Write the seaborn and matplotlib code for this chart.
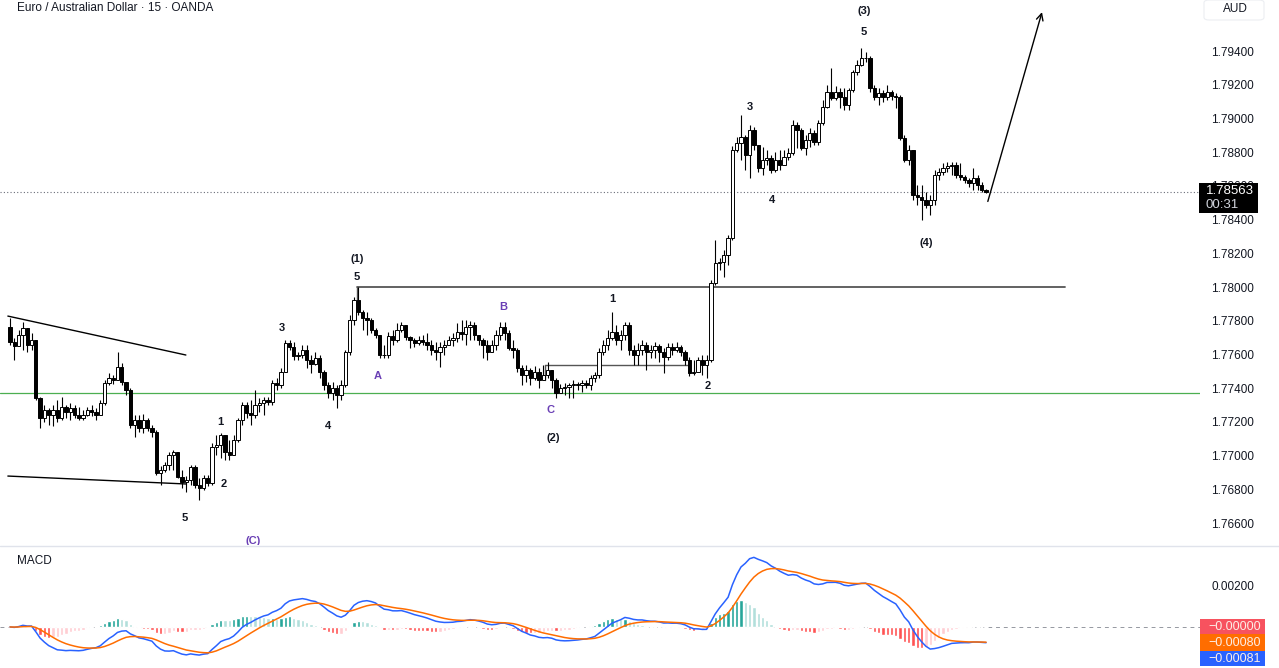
import numpy as np
import pandas as pd
import matplotlib
matplotlib.use("Agg")
import matplotlib.pyplot as plt
from matplotlib.patches import Rectangle, FancyBboxPatch
import seaborn as sns

# EUR/AUD 15m candles, open of candle n = close of candle n-1
first_open = 1.77763
closes = [
    1.77674, 1.77650, 1.77715, 1.77757, 1.77656, 1.77686, 1.77342, 1.77223, 1.77270, 1.77241,
    1.77270, 1.77223, 1.77288, 1.77259, 1.77282, 1.77241, 1.77223, 1.77241, 1.77270, 1.77259,
    1.77241, 1.77312, 1.77431, 1.77460, 1.77448, 1.77525, 1.77436, 1.77389, 1.77181, 1.77211,
    1.77164, 1.77211, 1.77164, 1.77139, 1.76897, 1.76914, 1.76944, 1.77003, 1.77021, 1.76873,
    1.76843, 1.76855, 1.76932, 1.76825, 1.76808, 1.76867, 1.76837, 1.77051, 1.77063, 1.77121,
    1.77021, 1.77003, 1.77092, 1.77211, 1.77300, 1.77253, 1.77241, 1.77300, 1.77312, 1.77330,
    1.77318, 1.77431, 1.77419, 1.77496, 1.77668, 1.77644, 1.77591, 1.77597, 1.77626, 1.77567,
    1.77543, 1.77579, 1.77496, 1.77419, 1.77371, 1.77401, 1.77359, 1.77419, 1.77614, 1.77804,
    1.77923, 1.77852, 1.77816, 1.77804, 1.77745, 1.77715, 1.77597, 1.77597, 1.77709, 1.77686,
    1.77745, 1.77775, 1.77703, 1.77686, 1.77668, 1.77686, 1.77674, 1.77656, 1.77626, 1.77614,
    1.77644, 1.77656, 1.77686, 1.77697, 1.77733, 1.77721, 1.77763, 1.77775, 1.77715, 1.77686,
    1.77656, 1.77614, 1.77656, 1.77715, 1.77763, 1.77727, 1.77638, 1.77626, 1.77520, 1.77478,
    1.77508, 1.77460, 1.77496, 1.77448, 1.77478, 1.77508, 1.77448, 1.77371, 1.77401, 1.77407,
    1.77419, 1.77425, 1.77419, 1.77431, 1.77419, 1.77460, 1.77478, 1.77614, 1.77656, 1.77697,
    1.77733, 1.77686, 1.77715, 1.77775, 1.77626, 1.77597, 1.77626, 1.77656, 1.77614, 1.77626,
    1.77650, 1.77614, 1.77585, 1.77644, 1.77626, 1.77644, 1.77614, 1.77567, 1.77490, 1.77496,
    1.77567, 1.77537, 1.77567, 1.78024, 1.78142, 1.78148, 1.78190, 1.78291, 1.78813, 1.78854,
    1.78890, 1.78783, 1.78931, 1.78842, 1.78706, 1.78753, 1.78765, 1.78694, 1.78753, 1.78724,
    1.78771, 1.78795, 1.78961, 1.78931, 1.78825, 1.78872, 1.78914, 1.78860, 1.78973, 1.79068,
    1.79157, 1.79121, 1.79157, 1.79127, 1.79080, 1.79169, 1.79275, 1.79317, 1.79358, 1.79358,
    1.79181, 1.79127, 1.79151, 1.79127, 1.79157, 1.79133, 1.79127, 1.78884, 1.78753, 1.78813,
    1.78546, 1.78534, 1.78516, 1.78486, 1.78516, 1.78664, 1.78682, 1.78706, 1.78718, 1.78724,
    1.78664, 1.78653, 1.78635, 1.78617, 1.78647, 1.78605, 1.78575, 1.78563,
]
highs = [
    1.77816, 1.77697, 1.77745, 1.77792, 1.77745, 1.77727, 1.77668, 1.77348, 1.77300, 1.77282,
    1.77300, 1.77330, 1.77348, 1.77300, 1.77312, 1.77300, 1.77288, 1.77270, 1.77288, 1.77300,
    1.77282, 1.77330, 1.77448, 1.77490, 1.77478, 1.77614, 1.77549, 1.77431, 1.77401, 1.77241,
    1.77241, 1.77247, 1.77223, 1.77181, 1.77152, 1.76938, 1.76962, 1.77021, 1.77033, 1.77021,
    1.76914, 1.76879, 1.76944, 1.76944, 1.76867, 1.76885, 1.76885, 1.77075, 1.77121, 1.77134,
    1.77121, 1.77092, 1.77121, 1.77223, 1.77318, 1.77318, 1.77330, 1.77389, 1.77342, 1.77348,
    1.77348, 1.77448, 1.77460, 1.77520, 1.77686, 1.77686, 1.77674, 1.77614, 1.77656, 1.77656,
    1.77597, 1.77614, 1.77597, 1.77508, 1.77436, 1.77436, 1.77419, 1.77448, 1.77626, 1.77834,
    1.77941, 1.78000, 1.77864, 1.77852, 1.77816, 1.77757, 1.77715, 1.77656, 1.77733, 1.77745,
    1.77786, 1.77792, 1.77775, 1.77709, 1.77697, 1.77709, 1.77715, 1.77727, 1.77686, 1.77674,
    1.77674, 1.77686, 1.77709, 1.77727, 1.77786, 1.77804, 1.77804, 1.77798, 1.77792, 1.77715,
    1.77697, 1.77686, 1.77686, 1.77745, 1.77792, 1.77792, 1.77745, 1.77686, 1.77638, 1.77537,
    1.77537, 1.77520, 1.77531, 1.77520, 1.77537, 1.77555, 1.77496, 1.77460, 1.77425, 1.77431,
    1.77431, 1.77448, 1.77436, 1.77448, 1.77448, 1.77478, 1.77496, 1.77638, 1.77686, 1.77745,
    1.77852, 1.77775, 1.77745, 1.77792, 1.77792, 1.77656, 1.77668, 1.77686, 1.77674, 1.77656,
    1.77674, 1.77662, 1.77638, 1.77668, 1.77668, 1.77674, 1.77656, 1.77626, 1.77585, 1.77567,
    1.77585, 1.77597, 1.77597, 1.78042, 1.78279, 1.78172, 1.78219, 1.78308, 1.78836, 1.78890,
    1.79020, 1.78902, 1.78961, 1.78949, 1.78842, 1.78831, 1.78813, 1.78783, 1.78801, 1.78813,
    1.78813, 1.78825, 1.78991, 1.78979, 1.78943, 1.78902, 1.78943, 1.78931, 1.78991, 1.79109,
    1.79198, 1.79299, 1.79192, 1.79181, 1.79181, 1.79181, 1.79287, 1.79347, 1.79418, 1.79394,
    1.79370, 1.79198, 1.79181, 1.79169, 1.79198, 1.79169, 1.79151, 1.79139, 1.78902, 1.78842,
    1.78813, 1.78605, 1.78605, 1.78564, 1.78546, 1.78694, 1.78706, 1.78736, 1.78742, 1.78742,
    1.78742, 1.78736, 1.78664, 1.78647, 1.78706, 1.78664, 1.78623, 1.78581,
]
lows = [
    1.77656, 1.77567, 1.77656, 1.77626, 1.77614, 1.77626, 1.77330, 1.77164, 1.77199, 1.77181,
    1.77175, 1.77199, 1.77211, 1.77223, 1.77211, 1.77223, 1.77211, 1.77211, 1.77235, 1.77235,
    1.77211, 1.77241, 1.77300, 1.77419, 1.77425, 1.77448, 1.77419, 1.77359, 1.77164, 1.77110,
    1.77139, 1.77134, 1.77146, 1.77110, 1.76885, 1.76825, 1.76903, 1.76914, 1.76914, 1.76867,
    1.76808, 1.76784, 1.76825, 1.76808, 1.76736, 1.76796, 1.76820, 1.76825, 1.77003, 1.76986,
    1.76974, 1.76974, 1.77003, 1.77081, 1.77181, 1.77223, 1.77181, 1.77223, 1.77259, 1.77241,
    1.77300, 1.77300, 1.77389, 1.77401, 1.77496, 1.77626, 1.77567, 1.77567, 1.77579, 1.77520,
    1.77490, 1.77537, 1.77460, 1.77389, 1.77342, 1.77330, 1.77282, 1.77330, 1.77407, 1.77597,
    1.77775, 1.77834, 1.77745, 1.77715, 1.77727, 1.77697, 1.77579, 1.77579, 1.77579, 1.77656,
    1.77674, 1.77733, 1.77686, 1.77638, 1.77644, 1.77656, 1.77656, 1.77626, 1.77597, 1.77567,
    1.77525, 1.77597, 1.77656, 1.77650, 1.77674, 1.77686, 1.77656, 1.77686, 1.77686, 1.77656,
    1.77579, 1.77567, 1.77614, 1.77626, 1.77686, 1.77686, 1.77626, 1.77579, 1.77496, 1.77419,
    1.77436, 1.77419, 1.77448, 1.77401, 1.77448, 1.77460, 1.77401, 1.77342, 1.77377, 1.77359,
    1.77342, 1.77342, 1.77389, 1.77377, 1.77401, 1.77389, 1.77436, 1.77460, 1.77597, 1.77626,
    1.77686, 1.77656, 1.77626, 1.77686, 1.77597, 1.77537, 1.77537, 1.77597, 1.77508, 1.77579,
    1.77579, 1.77555, 1.77490, 1.77567, 1.77597, 1.77614, 1.77591, 1.77537, 1.77472, 1.77478,
    1.77537, 1.77478, 1.77460, 1.77555, 1.78012, 1.78101, 1.78059, 1.78131, 1.78279, 1.78801,
    1.78753, 1.78694, 1.78647, 1.78813, 1.78682, 1.78664, 1.78724, 1.78676, 1.78682, 1.78694,
    1.78724, 1.78753, 1.78783, 1.78825, 1.78813, 1.78783, 1.78831, 1.78842, 1.78842, 1.78961,
    1.79062, 1.79109, 1.79109, 1.79062, 1.79050, 1.79050, 1.79157, 1.79258, 1.79311, 1.79335,
    1.79157, 1.79109, 1.79080, 1.79097, 1.79109, 1.79109, 1.79062, 1.78872, 1.78742, 1.78724,
    1.78516, 1.78486, 1.78397, 1.78469, 1.78427, 1.78486, 1.78635, 1.78664, 1.78682, 1.78664,
    1.78647, 1.78635, 1.78617, 1.78593, 1.78575, 1.78575, 1.78564, 1.78558,
]

price_ticks = [1.766, 1.768, 1.770, 1.772, 1.774, 1.776, 1.778, 1.780,
               1.782, 1.784, 1.786, 1.788, 1.790, 1.792, 1.794]
last_price = 1.78563
last_timer = "00:31"
support_level = 1.77370      # green line
wave1_level = 1.78000        # top of wave (1) box
range_level = 1.77537        # little range line under B-C

# Elliott wave marks: text, candle position, price
wave_text = ["(3)", "5", "3", "4", "(4)", "(1)", "5", "B", "1", "3",
             "A", "2", "C", "4", "1", "(2)", "2", "5", "(C)"]
wave_pos = [198.6, 198.6, 172.1, 177.2, 213.0, 80.7, 80.7, 114.7, 140.0, 63.3,
            85.6, 162.3, 125.6, 74.0, 48.8, 126.3, 49.8, 40.7, 56.5]
wave_price = [1.79637, 1.79513, 1.79068, 1.78516, 1.78261, 1.78166, 1.78059, 1.77881, 1.77929, 1.77757,
              1.77472, 1.77413, 1.77270, 1.77176, 1.77199, 1.77105, 1.76832, 1.76631, 1.76493]
wave_purple = ["B", "A", "C", "(C)"]

macd_tick = 0.002
macd_last = ["\u22120.00000", "\u22120.00080", "\u22120.00081"]   # histogram, signal, macd

W, H = 1279, 668
sns.set_theme(style="white")
plt.rcParams["font.family"] = ["Liberation Sans", "DejaVu Sans"]


def fx(px):
    return px / W


def fy(py):
    return 1 - py / H


df = pd.DataFrame({"close": closes, "high": highs, "low": lows})
df["open"] = df["close"].shift(1).fillna(first_open)
df["high"] = df[["high", "open", "close"]].max(axis=1)
df["low"] = df[["low", "open", "close"]].min(axis=1)
df["x"] = np.arange(len(df))

# MACD 12/26/9
fast = df["close"].ewm(span=12, adjust=False).mean()
slow = df["close"].ewm(span=26, adjust=False).mean()
df["macd"] = fast - slow
df["signal"] = df["macd"].ewm(span=9, adjust=False).mean()
df["hist"] = df["macd"] - df["signal"]
prev = df["hist"].shift(1).fillna(0)
hist_col = []
for h, p in zip(df["hist"], prev):
    if h >= 0:
        hist_col.append("#26A69A" if h >= p else "#B2DFDB")
    else:
        hist_col.append("#FF5252" if h <= p else "#FFCDD2")

fig = plt.figure(figsize=(W / 100, H / 100), dpi=100)
fig.patch.set_facecolor("white")
ax = fig.add_axes([0, fy(545), fx(1200), 545 / H])
ax2 = fig.add_axes([0, 0, fx(1200), 121 / H], sharex=ax)

xmin, xmax = -10 / 4.3, 1190 / 4.3
ax.set_xlim(xmin, xmax)
ax.set_ylim(1.76470, 1.79703)

# candles
up = df["close"] >= df["open"]
ax.vlines(df["x"], df["low"], df["high"], color="black", lw=0.8, zorder=2)
body = (df["close"] - df["open"]).abs().clip(lower=0.000015)
bottom = df[["open", "close"]].min(axis=1)
ax.bar(df["x"], body, bottom=bottom, width=0.75,
       color=np.where(up, "white", "black"), edgecolor="black", linewidth=0.7, zorder=3)

# drawings
ax.axhline(support_level, color="#4CAF50", lw=0.9, zorder=1)
ax.axhline(last_price, color="#6a6d78", lw=0.8, ls=(0, (1, 2)), zorder=1)
ax.plot([80.7, 245.3], [wave1_level, wave1_level], color="#555555", lw=1.3, zorder=1)
ax.plot([80.7, 80.7], [wave1_level, 1.77923], color="#555555", lw=1.0, zorder=1)
ax.plot([124.4, 158.1], [range_level, range_level], color="#555555", lw=1.0, zorder=1)
ax.plot([124.4, 124.4], [range_level, 1.77448], color="#555555", lw=1.0, zorder=1)
ax.plot([-0.5, 40.9], [1.77828, 1.77597], color="black", lw=1.0, zorder=1)
ax.plot([-0.5, 40.9], [1.76879, 1.76832], color="black", lw=1.0, zorder=1)
ax.annotate("", xy=(240.0, 1.79631), xytext=(227.4, 1.78508),
            arrowprops=dict(arrowstyle="->", color="black", lw=1.0,
                            mutation_scale=12, shrinkA=0, shrinkB=0))

for t, xp, yp in zip(wave_text, wave_pos, wave_price):
    col = "#6a3fb5" if t in wave_purple else "#131722"
    ax.text(xp, yp, t, ha="center", va="center", fontsize=8,
            fontweight="bold", color=col, zorder=5, clip_on=True)

ax.set_yticks(price_ticks)
ax.set_yticklabels(["%.5f" % v for v in price_ticks])
ax.yaxis.tick_right()
ax.tick_params(axis="y", length=0, pad=8, labelsize=8.5, labelcolor="#131722")
ax.tick_params(axis="x", bottom=False, labelbottom=False)
for s in ax.spines.values():
    s.set_visible(False)

# MACD panel
ax2.bar(df["x"], df["hist"], width=0.75, color=hist_col, zorder=2)
sns.lineplot(x=df["x"], y=df["macd"], ax=ax2, color="#2962FF", lw=1.1, zorder=3)
sns.lineplot(x=df["x"], y=df["signal"], ax=ax2, color="#FF6D00", lw=1.1, zorder=3)
ax2.axhline(0, color="#9598a1", lw=0.7, ls=(0, (4, 4)), zorder=1)
ax2.set_ylim(-0.0020, 0.00390)
ax2.set_xlim(xmin, xmax)
ax2.set_yticks([macd_tick])
ax2.set_yticklabels(["%.5f" % macd_tick])
ax2.yaxis.tick_right()
ax2.tick_params(axis="y", length=0, pad=8, labelsize=8.5, labelcolor="#131722")
ax2.tick_params(axis="x", bottom=False, labelbottom=False)
ax2.set_xlabel("")
ax2.set_ylabel("")
for s in ax2.spines.values():
    s.set_visible(False)

# last price tag
fig.add_artist(Rectangle((fx(1199), fy(213)), fx(59), 30 / H, transform=fig.transFigure,
                         fc="black", ec="none", zorder=10))
fig.text(fx(1206), fy(191), "%.5f" % last_price, ha="left", va="center",
         fontsize=9.5, color="white", zorder=11)
fig.text(fx(1206), fy(205), last_timer, ha="left", va="center",
         fontsize=9.5, color="#d1d4dc", zorder=11)

# MACD value tags
tag_cols = ["#F7525F", "#FF6D00", "#2962FF"]
tag_top = [619, 634, 651]
tag_bot = [634, 651, 666]
for txt, c, t0, t1 in zip(macd_last, tag_cols, tag_top, tag_bot):
    fig.add_artist(Rectangle((fx(1200), fy(t1)), fx(65), (t1 - t0) / H,
                             transform=fig.transFigure, fc=c, ec="none", zorder=10))
    fig.text(fx(1261), fy((t0 + t1) / 2), txt, ha="right", va="center",
             fontsize=9, color="#fdeee6", zorder=11)

# frame texts
fig.text(fx(17), fy(8), "Euro / Australian Dollar \u00b7 15 \u00b7 OANDA",
         ha="left", va="center", fontsize=8.5, color="#131722")
fig.text(fx(17), fy(561), "MACD", ha="left", va="center", fontsize=8.5, color="#131722")
fig.add_artist(FancyBboxPatch((fx(1204), fy(20)), fx(60), 20 / H,
                              boxstyle="round,pad=0,rounding_size=0.004",
                              transform=fig.transFigure, fc="white", ec="#eceef2", lw=0.8))
fig.text(fx(1223), fy(9), "AUD", ha="left", va="center", fontsize=8.5, color="#131722")
fig.add_artist(plt.Line2D([0, 1], [fy(546), fy(546)], color="#e0e3eb", lw=1.0))

fig.savefig("out.png", dpi=100, facecolor="white")
